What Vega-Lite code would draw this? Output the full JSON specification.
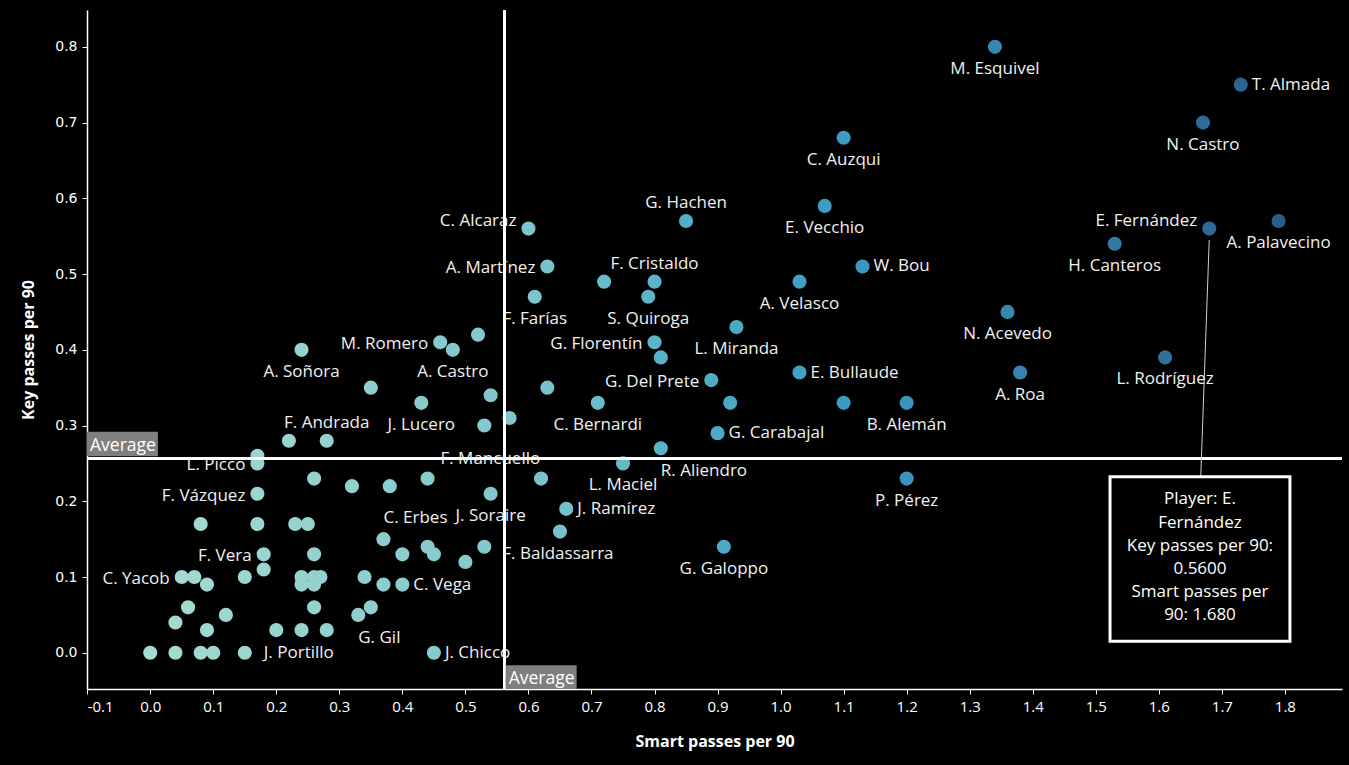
{
  "$schema": "https://vega.github.io/schema/vega-lite/v6.json",
  "autosize": {"type": "none"},
  "padding": {"left": 87, "top": 10, "right": 7, "bottom": 76},
  "width": 1255,
  "height": 679,
  "background": "black",
  "config": {
    "view": {"stroke": null},
    "axis": {
      "grid": false,
      "domainColor": "white",
      "domainWidth": 1.5,
      "tickColor": "white",
      "tickSize": 5,
      "labelColor": "white",
      "titleColor": "white",
      "titleFont": "Open Sans",
      "titleFontWeight": "bold",
      "titleFontSize": 16
    }
  },
  "datasets": {
    "players": [
      {"player": "M. Esquivel", "sp": 1.34, "kp": 0.80},
      {"player": "T. Almada", "sp": 1.73, "kp": 0.75},
      {"player": "N. Castro", "sp": 1.67, "kp": 0.70},
      {"player": "C. Auzqui", "sp": 1.10, "kp": 0.68},
      {"player": "G. Hachen", "sp": 0.85, "kp": 0.57},
      {"player": "E. Vecchio", "sp": 1.07, "kp": 0.59},
      {"player": "C. Alcaraz", "sp": 0.60, "kp": 0.56},
      {"player": "E. Fernández", "sp": 1.68, "kp": 0.56},
      {"player": "A. Palavecino", "sp": 1.79, "kp": 0.57},
      {"player": "H. Canteros", "sp": 1.53, "kp": 0.54},
      {"player": "A. Martínez", "sp": 0.63, "kp": 0.51},
      {"player": "F. Cristaldo", "sp": 0.80, "kp": 0.49},
      {"player": "W. Bou", "sp": 1.13, "kp": 0.51},
      {"player": "F. Farías", "sp": 0.61, "kp": 0.47},
      {"player": "S. Quiroga", "sp": 0.79, "kp": 0.47},
      {"player": "A. Velasco", "sp": 1.03, "kp": 0.49},
      {"player": "N. Acevedo", "sp": 1.36, "kp": 0.45},
      {"player": "L. Miranda", "sp": 0.93, "kp": 0.43},
      {"player": "M. Romero", "sp": 0.46, "kp": 0.41},
      {"player": "G. Florentín", "sp": 0.80, "kp": 0.41},
      {"player": "A. Soñora", "sp": 0.24, "kp": 0.40},
      {"player": "L. Rodríguez", "sp": 1.61, "kp": 0.39},
      {"player": "A. Castro", "sp": 0.48, "kp": 0.40},
      {"player": "E. Bullaude", "sp": 1.03, "kp": 0.37},
      {"player": "G. Del Prete", "sp": 0.89, "kp": 0.36},
      {"player": "A. Roa", "sp": 1.38, "kp": 0.37},
      {"player": "F. Andrada", "sp": 0.28, "kp": 0.28},
      {"player": "J. Lucero", "sp": 0.43, "kp": 0.33},
      {"player": "C. Bernardi", "sp": 0.71, "kp": 0.33},
      {"player": "B. Alemán", "sp": 1.20, "kp": 0.33},
      {"player": "G. Carabajal", "sp": 0.90, "kp": 0.29},
      {"player": "L. Picco", "sp": 0.17, "kp": 0.25},
      {"player": "F. Mancuello", "sp": 0.53, "kp": 0.30},
      {"player": "R. Aliendro", "sp": 0.81, "kp": 0.27},
      {"player": "L. Maciel", "sp": 0.75, "kp": 0.25},
      {"player": "F. Vázquez", "sp": 0.17, "kp": 0.21},
      {"player": "J. Soraire", "sp": 0.54, "kp": 0.21},
      {"player": "C. Erbes", "sp": 0.37, "kp": 0.15},
      {"player": "J. Ramírez", "sp": 0.66, "kp": 0.19},
      {"player": "F. Baldassarra", "sp": 0.53, "kp": 0.14},
      {"player": "F. Vera", "sp": 0.18, "kp": 0.13},
      {"player": "C. Yacob", "sp": 0.05, "kp": 0.10},
      {"player": "C. Vega", "sp": 0.40, "kp": 0.09},
      {"player": "G. Galoppo", "sp": 0.91, "kp": 0.14},
      {"player": "P. Pérez", "sp": 1.20, "kp": 0.23},
      {"player": "J. Portillo", "sp": 0.15, "kp": 0.00},
      {"player": "J. Chicco", "sp": 0.45, "kp": 0.00},
      {"player": "G. Gil", "sp": 0.33, "kp": 0.05},
      {"player": "", "sp": 0.17, "kp": 0.26},
      {"player": "", "sp": 0.22, "kp": 0.28},
      {"player": "", "sp": 0.26, "kp": 0.23},
      {"player": "", "sp": 0.32, "kp": 0.22},
      {"player": "", "sp": 0.08, "kp": 0.17},
      {"player": "", "sp": 0.17, "kp": 0.17},
      {"player": "", "sp": 0.23, "kp": 0.17},
      {"player": "", "sp": 0.25, "kp": 0.17},
      {"player": "", "sp": 0.26, "kp": 0.13},
      {"player": "", "sp": 0.18, "kp": 0.11},
      {"player": "", "sp": 0.07, "kp": 0.10},
      {"player": "", "sp": 0.09, "kp": 0.09},
      {"player": "", "sp": 0.15, "kp": 0.10},
      {"player": "", "sp": 0.24, "kp": 0.10},
      {"player": "", "sp": 0.24, "kp": 0.09},
      {"player": "", "sp": 0.26, "kp": 0.10},
      {"player": "", "sp": 0.26, "kp": 0.09},
      {"player": "", "sp": 0.27, "kp": 0.10},
      {"player": "", "sp": 0.34, "kp": 0.10},
      {"player": "", "sp": 0.06, "kp": 0.06},
      {"player": "", "sp": 0.04, "kp": 0.04},
      {"player": "", "sp": 0.12, "kp": 0.05},
      {"player": "", "sp": 0.09, "kp": 0.03},
      {"player": "", "sp": 0.26, "kp": 0.06},
      {"player": "", "sp": 0.20, "kp": 0.03},
      {"player": "", "sp": 0.24, "kp": 0.03},
      {"player": "", "sp": 0.28, "kp": 0.03},
      {"player": "", "sp": 0.35, "kp": 0.06},
      {"player": "", "sp": 0.00, "kp": 0.00},
      {"player": "", "sp": 0.04, "kp": 0.00},
      {"player": "", "sp": 0.08, "kp": 0.00},
      {"player": "", "sp": 0.10, "kp": 0.00},
      {"player": "", "sp": 0.38, "kp": 0.22},
      {"player": "", "sp": 0.44, "kp": 0.23},
      {"player": "", "sp": 0.62, "kp": 0.23},
      {"player": "", "sp": 0.65, "kp": 0.16},
      {"player": "", "sp": 0.40, "kp": 0.13},
      {"player": "", "sp": 0.44, "kp": 0.14},
      {"player": "", "sp": 0.45, "kp": 0.13},
      {"player": "", "sp": 0.50, "kp": 0.12},
      {"player": "", "sp": 0.37, "kp": 0.09},
      {"player": "", "sp": 0.35, "kp": 0.35},
      {"player": "", "sp": 0.52, "kp": 0.42},
      {"player": "", "sp": 0.54, "kp": 0.34},
      {"player": "", "sp": 0.57, "kp": 0.31},
      {"player": "", "sp": 0.63, "kp": 0.35},
      {"player": "", "sp": 0.72, "kp": 0.49},
      {"player": "", "sp": 0.81, "kp": 0.39},
      {"player": "", "sp": 0.92, "kp": 0.33},
      {"player": "", "sp": 1.10, "kp": 0.33}
    ],
    "avgBoxes": [
      {"sp": -0.1003, "sp2": 0.0122, "kp": 0.2596, "kp2": 0.2917, "label": "Average"},
      {"sp": 0.5638, "sp2": 0.6765, "kp": -0.0478, "kp2": -0.0165, "label": "Average"}
    ],
    "tipBox": [
      {"sp": 1.5226, "sp2": 1.808, "kp": 0.0152, "kp2": 0.2325}
    ],
    "tipLine": [
      {"sp": 1.680, "sp2": 1.6665, "kp": 0.545, "kp2": 0.2325}
    ],
    "tipText": [
      {"sp": 1.6653, "kp": 0.2024, "tip": "Player: E.\nFernández\nKey passes per 90:\n0.5600\nSmart passes per\n90: 1.680"}
    ]
  },
  "layer": [
    {
      "data": {"name": "players"},
      "mark": {"type": "circle", "size": 200, "opacity": 1},
      "encoding": {
        "x": {
          "field": "sp", "type": "quantitative", "title": "Smart passes per 90",
          "scale": {"domain": [-0.1003, 1.8906], "nice": false, "zero": false},
          "axis": {
            "values": [-0.1, 0, 0.1, 0.2, 0.3, 0.4, 0.5, 0.6, 0.7, 0.8, 0.9, 1.0, 1.1, 1.2, 1.3, 1.4, 1.5, 1.6, 1.7, 1.8],
            "labelExpr": "replace(format(datum.value, '.1f'), '−', '-')",
            "labelFont": "Open Sans", "labelFontSize": 15, "labelPadding": 5,
            "titlePadding": 19
          }
        },
        "y": {
          "field": "kp", "type": "quantitative", "title": "Key passes per 90",
          "scale": {"domain": [-0.0478, 0.8486], "nice": false, "zero": false},
          "axis": {
            "values": [0, 0.1, 0.2, 0.3, 0.4, 0.5, 0.6, 0.7, 0.8],
            "format": ".1f", "labelFont": "DejaVu Sans", "labelFontSize": 14, "labelPadding": 5,
            "titlePadding": 18
          }
        },
        "color": {
          "field": "sp", "type": "quantitative", "legend": null,
          "scale": {
            "domain": [0, 0.6, 0.85, 1.1, 1.5, 1.8],
            "range": ["#a6dbd1", "#7fc5cc", "#52afc8", "#3b9bc2", "#347ca8", "#2c5c88"]
          }
        }
      }
    },
    {
      "data": {"name": "players"},
      "transform": [{"filter": {"field": "player", "oneOf": ["M. Esquivel", "N. Castro", "C. Auzqui", "E. Vecchio", "A. Palavecino", "H. Canteros", "F. Farías", "S. Quiroga", "A. Velasco", "N. Acevedo", "L. Miranda", "A. Soñora", "L. Rodríguez", "A. Castro", "A. Roa", "J. Lucero", "C. Bernardi", "B. Alemán", "L. Maciel", "J. Soraire", "G. Galoppo", "P. Pérez"]}}],
      "mark": {"type": "text", "font": "Open Sans", "fontSize": 17, "color": "#f0f0f0", "align": "center", "baseline": "middle", "dy": 22},
      "encoding": {
        "x": {"field": "sp", "type": "quantitative", "title": "Smart passes per 90"},
        "y": {"field": "kp", "type": "quantitative", "title": "Key passes per 90"},
        "text": {"field": "player"}
      }
    },
    {
      "data": {"name": "players"},
      "transform": [{"filter": {"field": "player", "oneOf": ["G. Hachen", "F. Cristaldo", "F. Andrada"]}}],
      "mark": {"type": "text", "font": "Open Sans", "fontSize": 17, "color": "#f0f0f0", "align": "center", "baseline": "middle", "dy": -18},
      "encoding": {
        "x": {"field": "sp", "type": "quantitative", "title": "Smart passes per 90"},
        "y": {"field": "kp", "type": "quantitative", "title": "Key passes per 90"},
        "text": {"field": "player"}
      }
    },
    {
      "data": {"name": "players"},
      "transform": [{"filter": {"field": "player", "oneOf": ["T. Almada", "W. Bou", "E. Bullaude", "G. Carabajal", "J. Ramírez", "C. Vega", "J. Chicco"]}}],
      "mark": {"type": "text", "font": "Open Sans", "fontSize": 17, "color": "#f0f0f0", "align": "left", "baseline": "middle", "dx": 11},
      "encoding": {
        "x": {"field": "sp", "type": "quantitative", "title": "Smart passes per 90"},
        "y": {"field": "kp", "type": "quantitative", "title": "Key passes per 90"},
        "text": {"field": "player"}
      }
    },
    {
      "data": {"name": "players"},
      "transform": [{"filter": {"field": "player", "oneOf": ["J. Portillo"]}}],
      "mark": {"type": "text", "font": "Open Sans", "fontSize": 17, "color": "#f0f0f0", "align": "left", "baseline": "middle", "dx": 19},
      "encoding": {
        "x": {"field": "sp", "type": "quantitative", "title": "Smart passes per 90"},
        "y": {"field": "kp", "type": "quantitative", "title": "Key passes per 90"},
        "text": {"field": "player"}
      }
    },
    {
      "data": {"name": "players"},
      "transform": [{"filter": {"field": "player", "oneOf": ["F. Baldassarra"]}}],
      "mark": {"type": "text", "font": "Open Sans", "fontSize": 17, "color": "#f0f0f0", "align": "left", "baseline": "middle", "dx": 18, "dy": 7},
      "encoding": {
        "x": {"field": "sp", "type": "quantitative", "title": "Smart passes per 90"},
        "y": {"field": "kp", "type": "quantitative", "title": "Key passes per 90"},
        "text": {"field": "player"}
      }
    },
    {
      "data": {"name": "players"},
      "transform": [{"filter": {"field": "player", "oneOf": ["A. Martínez", "M. Romero", "G. Florentín", "G. Del Prete", "L. Picco", "F. Vázquez", "F. Vera", "C. Yacob"]}}],
      "mark": {"type": "text", "font": "Open Sans", "fontSize": 17, "color": "#f0f0f0", "align": "right", "baseline": "middle", "dx": -12, "dy": 2},
      "encoding": {
        "x": {"field": "sp", "type": "quantitative", "title": "Smart passes per 90"},
        "y": {"field": "kp", "type": "quantitative", "title": "Key passes per 90"},
        "text": {"field": "player"}
      }
    },
    {
      "data": {"name": "players"},
      "transform": [{"filter": {"field": "player", "oneOf": ["C. Alcaraz", "E. Fernández"]}}],
      "mark": {"type": "text", "font": "Open Sans", "fontSize": 17, "color": "#f0f0f0", "align": "right", "baseline": "middle", "dx": -12, "dy": -8},
      "encoding": {
        "x": {"field": "sp", "type": "quantitative", "title": "Smart passes per 90"},
        "y": {"field": "kp", "type": "quantitative", "title": "Key passes per 90"},
        "text": {"field": "player"}
      }
    },
    {
      "data": {"name": "players"},
      "transform": [{"filter": {"field": "player", "oneOf": ["R. Aliendro", "G. Gil"]}}],
      "mark": {"type": "text", "font": "Open Sans", "fontSize": 17, "color": "#f0f0f0", "align": "left", "baseline": "middle", "dx": 0, "dy": 23},
      "encoding": {
        "x": {"field": "sp", "type": "quantitative", "title": "Smart passes per 90"},
        "y": {"field": "kp", "type": "quantitative", "title": "Key passes per 90"},
        "text": {"field": "player"}
      }
    },
    {
      "data": {"name": "players"},
      "transform": [{"filter": {"field": "player", "oneOf": ["C. Erbes"]}}],
      "mark": {"type": "text", "font": "Open Sans", "fontSize": 17, "color": "#f0f0f0", "align": "left", "baseline": "middle", "dx": 0, "dy": -21},
      "encoding": {
        "x": {"field": "sp", "type": "quantitative", "title": "Smart passes per 90"},
        "y": {"field": "kp", "type": "quantitative", "title": "Key passes per 90"},
        "text": {"field": "player"}
      }
    },
    {
      "data": {"name": "players"},
      "transform": [{"filter": {"field": "player", "oneOf": ["F. Mancuello"]}}],
      "mark": {"type": "text", "font": "Open Sans", "fontSize": 17, "color": "#f0f0f0", "align": "center", "baseline": "middle", "dx": 6, "dy": 33},
      "encoding": {
        "x": {"field": "sp", "type": "quantitative", "title": "Smart passes per 90"},
        "y": {"field": "kp", "type": "quantitative", "title": "Key passes per 90"},
        "text": {"field": "player"}
      }
    },
    {
      "data": {"values": [{"kp": 0.2565}]},
      "mark": {"type": "rule", "color": "white", "strokeWidth": 3},
      "encoding": {
        "y": {"field": "kp", "type": "quantitative", "title": "Key passes per 90"}
      }
    },
    {
      "data": {"values": [{"sp": 0.562}]},
      "mark": {"type": "rule", "color": "white", "strokeWidth": 3},
      "encoding": {
        "x": {"field": "sp", "type": "quantitative", "title": "Smart passes per 90"}
      }
    },
    {
      "data": {"name": "avgBoxes"},
      "mark": {"type": "rect", "color": "#7f7f7f"},
      "encoding": {
        "x": {"field": "sp", "type": "quantitative", "title": "Smart passes per 90"},
        "x2": {"field": "sp2"},
        "y": {"field": "kp", "type": "quantitative", "title": "Key passes per 90"},
        "y2": {"field": "kp2"}
      }
    },
    {
      "data": {"name": "avgBoxes"},
      "mark": {"type": "text", "font": "Open Sans", "fontSize": 17.5, "color": "white", "align": "left", "baseline": "alphabetic", "dx": 3, "dy": -5},
      "encoding": {
        "x": {"field": "sp", "type": "quantitative", "title": "Smart passes per 90"},
        "y": {"field": "kp", "type": "quantitative", "title": "Key passes per 90"},
        "text": {"field": "label"}
      }
    },
    {
      "data": {"name": "tipLine"},
      "mark": {"type": "rule", "color": "#d0d0d0", "strokeWidth": 1},
      "encoding": {
        "x": {"field": "sp", "type": "quantitative", "title": "Smart passes per 90"},
        "x2": {"field": "sp2"},
        "y": {"field": "kp", "type": "quantitative", "title": "Key passes per 90"},
        "y2": {"field": "kp2"}
      }
    },
    {
      "data": {"name": "tipBox"},
      "mark": {"type": "rect", "fill": "black", "stroke": "white", "strokeWidth": 3},
      "encoding": {
        "x": {"field": "sp", "type": "quantitative", "title": "Smart passes per 90"},
        "x2": {"field": "sp2"},
        "y": {"field": "kp", "type": "quantitative", "title": "Key passes per 90"},
        "y2": {"field": "kp2"}
      }
    },
    {
      "data": {"name": "tipText"},
      "mark": {"type": "text", "font": "Open Sans", "fontSize": 17, "color": "white", "align": "center", "baseline": "middle", "lineBreak": "\n", "lineHeight": 23.2},
      "encoding": {
        "x": {"field": "sp", "type": "quantitative", "title": "Smart passes per 90"},
        "y": {"field": "kp", "type": "quantitative", "title": "Key passes per 90"},
        "text": {"field": "tip"}
      }
    }
  ]
}
